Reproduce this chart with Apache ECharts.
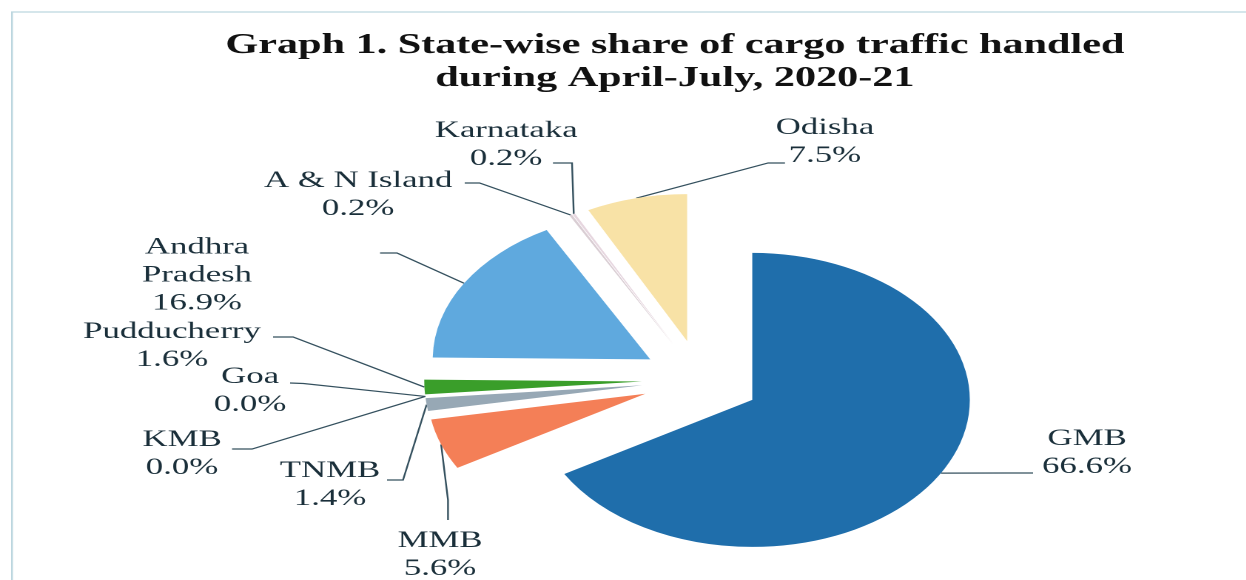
<!DOCTYPE html>
<html>
<head>
<meta charset="utf-8">
<script src="https://cdn.jsdelivr.net/npm/echarts@6/dist/echarts.min.js"></script>
<style>
  html, body { margin: 0; padding: 0; background: #fff; overflow: hidden; }
  /* the source picture is stretched sideways, so the whole chart is too */
  #pieChart {
    position: absolute; left: 0; top: 0;
    width: 842px; height: 580px;
    transform: scaleX(1.48); transform-origin: 0 0;
  }
</style>
</head>
<body>
<div id="pieChart"></div>
<script>
// data
var states = ['GMB', 'MMB', 'TNMB', 'KMB', 'Goa', 'Pudducherry', 'Andhra Pradesh', 'A & N Island', 'Karnataka', 'Odisha'];
var shares = [66.6, 5.6, 1.4, 0.0, 0.0, 1.6, 16.9, 0.2, 0.2, 7.5];

var colors = ['#1f6eab', '#f47f57', '#97a8b5', '#8c9aa6', '#b9c3cb', '#3a9e2a', '#5fa9de', '#d9cdd3', '#e6d6df', '#f8e2a6'];

// pie geometry (unstretched px)
var CX = 473.6, CY = 380, R = 147, OFF = 40;

// where each label sits and where its leader line starts
var labelPos = {
  'GMB':            { x: 734.5, y: 453, line: [[698, 473], [680, 473]] },
  'MMB':            { x: 297.3, y: 555, line: [[302.7, 520], [302.7, 500]] },
  'TNMB':           { x: 223,   y: 485, line: [[261.5, 480], [272.3, 480]] },
  'KMB':            { x: 123,   y: 454, line: [[156.8, 449], [170.3, 449]] },
  'Goa':            { x: 169,   y: 391, line: [[196, 383], [205, 383.5]] },
  'Pudducherry':    { x: 116.2, y: 346, line: [[184.5, 337], [198, 337]] },
  'Andhra Pradesh': { x: 133.1, y: 275.5, line: [[256.8, 253], [268.2, 253]] },
  'A & N Island':   { x: 242,   y: 195, line: [[314, 183], [324, 183]] },
  'Karnataka':      { x: 342,   y: 145, line: [[373.6, 163], [386.5, 163]] },
  'Odisha':         { x: 557.4, y: 142, line: [[530.4, 163], [519, 163]] }
};

var pieData = states.map(function (name, i) {
  return { name: name, value: shares[i], selected: true };
});

var myChart = echarts.init(document.getElementById('pieChart'), null, { devicePixelRatio: 2 });

myChart.setOption({
  animation: false,
  color: colors,
  title: {
    text: 'Graph 1. State-wise share of cargo traffic handled\nduring April-July, 2020-21',
    left: 451,
    top: 24,
    textAlign: 'center',
    textStyle: {
      fontFamily: 'Liberation Serif',
      fontWeight: 'bold',
      fontSize: 28.5,
      lineHeight: 33,
      color: '#111'
    }
  },
  graphic: [{
    type: 'rect',
    shape: { x: 8.1, y: 12, width: 900, height: 700 },
    style: { fill: 'none', stroke: '#bcd6df', lineWidth: 1.2 },
    silent: true
  }],
  series: [{
    // exploded slices
    type: 'pie',
    center: [CX, CY],
    radius: R,
    startAngle: 90,
    clockwise: true,
    selectedMode: 'multiple',
    selectedOffset: OFF,
    emphasis: { disabled: true },
    select: { itemStyle: { borderWidth: 0 } },
    itemStyle: { borderWidth: 0 },
    label: { show: false },
    labelLine: { show: false },
    data: pieData
  }, {
    // same pie, invisible, only carries the labels
    type: 'pie',
    silent: true,
    center: [CX, CY],
    radius: R,
    startAngle: 90,
    clockwise: true,
    avoidLabelOverlap: false,
    emphasis: { disabled: true },
    itemStyle: { color: 'rgba(0,0,0,0)', borderWidth: 0 },
    label: {
      show: true,
      position: 'outside',
      fontFamily: 'Liberation Serif',
      fontSize: 23.5,
      lineHeight: 28,
      color: '#1a2f3a',
      align: 'center',
      formatter: function (p) {
        return p.name.replace('Andhra Pradesh', 'Andhra\nPradesh') + '\n' + p.value.toFixed(1) + '%';
      }
    },
    labelLine: {
      show: true,
      length: 10,
      length2: 10,
      lineStyle: { color: '#34505e', width: 1.2 }
    },
    labelLayout: function (params) {
      var pos = labelPos[states[params.dataIndex]];
      var p = params.labelLinePoints ? params.labelLinePoints[0] : [CX - 1, CY];
      var ang = Math.atan2(p[1] - CY, p[0] - CX);
      var end = [CX + (R + OFF) * Math.cos(ang), CY + (R + OFF) * Math.sin(ang)];
      return {
        x: pos.x,
        y: pos.y,
        align: 'center',
        verticalAlign: 'middle',
        labelLinePoints: [pos.line[0], pos.line[1], end]
      };
    },
    data: states.map(function (name, i) {
      return { name: name, value: shares[i] };
    })
  }]
});
</script>
</body>
</html>
